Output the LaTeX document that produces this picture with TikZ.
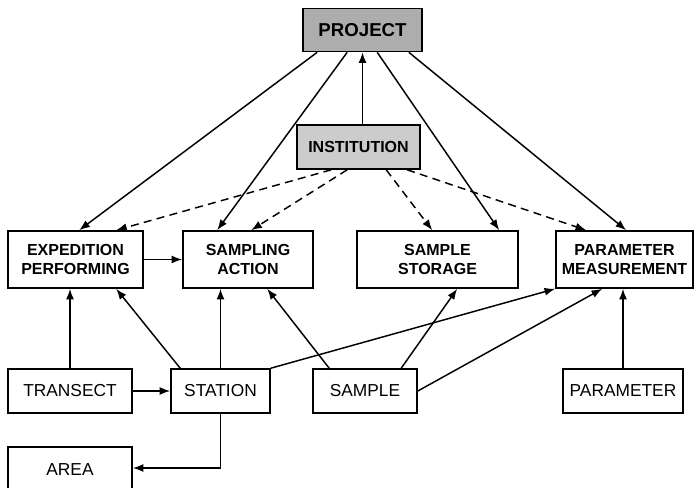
\documentclass[tikz,border=0pt]{standalone}
\usepackage{fontspec}
\setmainfont{Liberation Sans}
\usetikzlibrary{arrows.meta,calc}

\tikzset{every picture/.style={line width=1.1pt}}
\tikzset{
  entity/.style={draw, line width=1.2pt, align=center, inner sep=0pt, minimum height=57*0.75pt,
    font=\bfseries\fontsize{12}{14}\selectfont},
  plainbox/.style={draw, line width=1.2pt, inner sep=0pt, minimum height=44*0.75pt,
    font=\fontsize{13}{15}\selectfont},
  rel/.style={-{Latex[length=8pt,width=6pt]}},
  weakrel/.style={rel, dash pattern=on 6pt off 4pt}
}

\begin{document}
\begin{tikzpicture}[x=0.75pt,y=0.75pt,yscale=-1,xscale=1]
	\clip (0,0) rectangle (695,488);

	% Shaded boxes
	\node [draw, line width=1.2pt, fill=black!32, minimum width=119*0.75pt, minimum height=43*0.75pt, font=\bfseries\fontsize{14}{16}\selectfont] (proj) at (362.5,30) {PROJECT};
	\node [draw, line width=1.2pt, fill=black!20, minimum width=123*0.75pt, minimum height=44*0.75pt, font=\bfseries\fontsize{12}{14}\selectfont] (inst) at (358.5,147) {INSTITUTION};

	% Middle row
	\node [entity, minimum width=135*0.75pt] (exp) at (75.5,259.5) {EXPEDITION\\PERFORMING};
	\node [entity, minimum width=130*0.75pt] (samp) at (248,259.5) {SAMPLING\\ACTION};
	\node [entity, minimum width=161*0.75pt] (stor) at (437.5,259.5) {SAMPLE\\STORAGE};
	\node [entity, minimum width=137*0.75pt] (meas) at (624.5,259.5) {PARAMETER\\MEASUREMENT};

	% Bottom rows
	\node [plainbox, minimum width=124*0.75pt] (trans) at (70,391) {TRANSECT};
	\node [plainbox, minimum width=99*0.75pt] (stat) at (220.5,391) {STATION};
	\node [plainbox, minimum width=104*0.75pt] (smpl) at (365,391) {SAMPLE};
	\node [plainbox, minimum width=120*0.75pt] (param) at (623,391) {PARAMETER};
	\node [plainbox, minimum width=124*0.75pt, minimum height=46*0.75pt] (area) at (70,470) {AREA};

	% Project links
	\draw [rel] (inst.north -| proj.south) -- (proj.south);
	\draw [rel] ($(proj.south west)+(15,0)$) -- ($(exp.north west)+(72,0)$);
	\draw [rel] ($(proj.south west)+(45,0)$) -- ($(samp.north west)+(35,0)$);
	\draw [rel] ($(proj.south west)+(75,0)$) -- ($(stor.north west)+(143,0)$);
	\draw [rel] ($(proj.south east)+(-14,0)$) -- ($(meas.north west)+(71,0)$);

	% Institution links
	\draw [weakrel] ($(inst.south west)+(35,0)$) -- ($(exp.north west)+(109,0)$);
	\draw [weakrel] ($(inst.south west)+(51,0)$) -- ($(samp.north west)+(69,0)$);
	\draw [weakrel] ($(inst.south west)+(90,0)$) -- ($(stor.north west)+(76,0)$);
	\draw [weakrel] ($(inst.south west)+(111,0)$) -- ($(meas.north west)+(31,0)$);

	% Lower links
	\draw [rel] (exp.east) -- (samp.west);
	\draw [rel] (trans.north) -- (trans.north |- exp.south);
	\draw [rel] ($(stat.north west)+(10,0)$) -- ($(exp.south west)+(109,0)$);
	\draw [rel] (stat.north) -- (stat.north |- samp.south);
	\draw [rel] ($(smpl.north west)+(17,0)$) -- ($(samp.south west)+(85,0)$);
	\draw [rel] ($(smpl.north west)+(89,0)$) -- ($(stor.south west)+(101,0)$);
	\draw [rel] (stat.north east) -- (meas.south west);
	\draw [rel] (smpl.east) -- ($(meas.south west)+(47,0)$);
	\draw [rel] (param.north) -- (param.north |- meas.south);
	\draw [rel] (trans.east) -- (stat.west);
	\draw [rel] (stat.south) |- ($(area.east)+(0,-2)$);

\end{tikzpicture}
\end{document}
